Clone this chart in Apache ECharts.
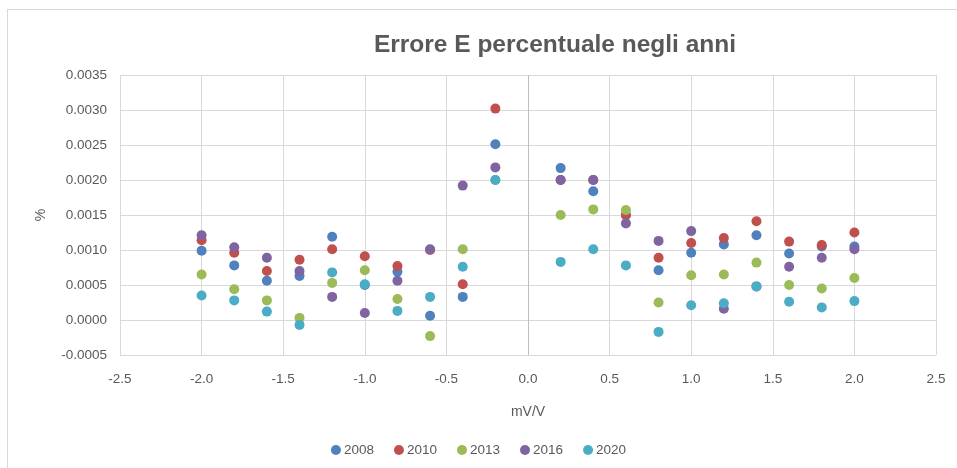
<!DOCTYPE html>
<html>
<head>
<meta charset="utf-8">
<script src="https://cdn.jsdelivr.net/npm/echarts@6/dist/echarts.min.js"></script>
<style>
html,body{margin:0;padding:0;background:#fff;}
#wrap{position:relative;width:957px;height:468px;}
#frame{position:absolute;left:7px;top:9px;right:0;bottom:0;border-left:1px solid #d9d9d9;border-top:1px solid #d9d9d9;pointer-events:none;}
#chart{position:absolute;left:0;top:0;width:957px;height:468px;}
</style>
</head>
<body>
<div id="wrap"><div id="chart"></div><div id="frame"></div></div>
<script>
const xValues = [-2.0, -1.8, -1.6, -1.4, -1.2, -1.0, -0.8, -0.6, -0.4, -0.2, 0.2, 0.4, 0.6, 0.8, 1.0, 1.2, 1.4, 1.6, 1.8, 2.0];
const years = ['2008', '2010', '2013', '2016', '2020'];
const s2008 = [0.00099, 0.00078, 0.00056, 0.00063, 0.00119, 0.00050, 0.00069, 0.00006, 0.00033, 0.00251, 0.00217, 0.00184, 0.00150, 0.00071, 0.00096, 0.00108, 0.00121, 0.00095, 0.00105, 0.00105];
const s2010 = [0.00114, 0.00096, 0.00070, 0.00086, 0.00101, 0.00091, 0.00077, 0.00100, 0.00051, 0.00302, 0.00200, 0.00200, 0.00150, 0.00089, 0.00110, 0.00117, 0.00141, 0.00112, 0.00107, 0.00125];
const s2013 = [0.00065, 0.00044, 0.00028, 0.00003, 0.00053, 0.00071, 0.00030, -0.00023, 0.00101, 0.00200, 0.00150, 0.00158, 0.00157, 0.00025, 0.00064, 0.00065, 0.00082, 0.00050, 0.00045, 0.00060];
const s2016 = [0.00121, 0.00104, 0.00089, 0.00070, 0.00033, 0.00010, 0.00056, 0.00101, 0.00192, 0.00218, 0.00200, 0.00200, 0.00138, 0.00113, 0.00127, 0.00016, 0.00048, 0.00076, 0.00089, 0.00101];
const s2020 = [0.00035, 0.00028, 0.00012, -0.00007, 0.00068, 0.00051, 0.00013, 0.00033, 0.00076, 0.00200, 0.00083, 0.00101, 0.00078, -0.00017, 0.00021, 0.00024, 0.00048, 0.00026, 0.00018, 0.00027];
const seriesValues = [s2008, s2010, s2013, s2016, s2020];
const colors = ['#4F81BD', '#C0504D', '#9BBB59', '#8064A2', '#4BACC6'];

const chart = echarts.init(document.getElementById('chart'), null, {renderer: 'canvas'});
const font = 'Liberation Sans, Arial, sans-serif';
const series = years.map((y, i) => {
  const s = {
    name: y,
    type: 'scatter',
    symbol: 'circle',
    symbolSize: 10,
    itemStyle: {color: colors[i], opacity: 1},
    data: xValues.map((x, j) => [x, seriesValues[i][j]]),
    z: 2 + i
  };
  if (i === 0) {
    s.markLine = {
      silent: true,
      symbol: 'none',
      label: {show: false},
      lineStyle: {color: '#bfbfbf', type: 'solid', width: 1},
      data: [{xAxis: 0}],
      z: 1
    };
  }
  return s;
});

chart.setOption({
  animation: false,
  backgroundColor: 'transparent',
  color: colors,
  title: {
    text: 'Errore E percentuale negli anni',
    left: 550,
    textAlign: 'center',
    top: 28,
    textStyle: {fontFamily: font, fontSize: 24.5, fontWeight: 'bold', color: '#595959'}
  },
  legend: {
    data: years,
    bottom: 6,
    left: 'center',
    icon: 'circle',
    itemWidth: 10,
    itemHeight: 10,
    itemGap: 20,
    textStyle: {fontFamily: font, fontSize: 13.5, color: '#595959', padding: [0, 0, 0, -2]}
  },
  grid: {left: 120, right: 21, top: 75, bottom: 113},
  xAxis: {
    type: 'value',
    min: -2.5, max: 2.5, interval: 0.5,
    name: 'mV/V',
    nameLocation: 'middle',
    nameGap: 50,
    nameTextStyle: {fontFamily: font, fontSize: 14, color: '#595959'},
    axisLine: {show: false, onZero: false},
    axisTick: {show: false},
    axisLabel: {fontFamily: font, fontSize: 13.5, color: '#595959', margin: 17, formatter: v => v.toFixed(1)},
    splitLine: {show: true, lineStyle: {color: '#d9d9d9', width: 1}}
  },
  yAxis: {
    type: 'value',
    min: -0.0005, max: 0.0035, interval: 0.0005,
    name: '%',
    nameLocation: 'middle',
    nameGap: 72,
    nameTextStyle: {fontFamily: font, fontSize: 14, color: '#595959'},
    axisLine: {show: false},
    axisTick: {show: false},
    axisLabel: {fontFamily: font, fontSize: 13.5, color: '#595959', margin: 13, formatter: v => v.toFixed(4)},
    splitLine: {show: true, lineStyle: {color: '#d9d9d9', width: 1}}
  },
  series: series
});
</script>
</body>
</html>
